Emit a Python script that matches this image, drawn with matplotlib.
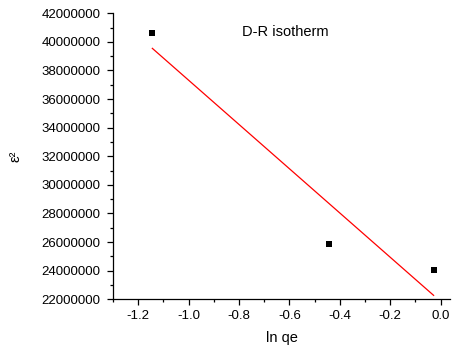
import numpy as np
import matplotlib
matplotlib.use("Agg")
import matplotlib.pyplot as plt
from matplotlib.ticker import MultipleLocator, FormatStrFormatter

plt.rcParams['font.family'] = ['Liberation Sans', 'DejaVu Sans']

# data
ln_qe = [-1.144, -0.443, -0.028]
eps_sq = [40600000, 25870000, 24050000]

# linear fit (the red line)
slope, intercept = np.polyfit(ln_qe, eps_sq, 1)
fit_x = np.array([ln_qe[0], ln_qe[-1]])
fit_y = slope * fit_x + intercept

fig = plt.figure(figsize=(4.59, 3.47), dpi=100)
ax = fig.add_axes([0.2462, 0.1375, 0.9804 - 0.2462, 0.9617 - 0.1375])

ax.plot(ln_qe, eps_sq, 's', color='black', markersize=5, markeredgewidth=0)
ax.plot(fit_x, fit_y, color='red', linewidth=0.9)

ax.set_xlim(-1.3, 0.037)
ax.set_ylim(22000000, 42000000)

ax.xaxis.set_major_locator(MultipleLocator(0.2))
ax.xaxis.set_minor_locator(MultipleLocator(0.1))
ax.xaxis.set_major_formatter(FormatStrFormatter('%.1f'))
ax.yaxis.set_major_locator(MultipleLocator(2000000))
ax.yaxis.set_minor_locator(MultipleLocator(1000000))
ax.yaxis.set_major_formatter(FormatStrFormatter('%d'))

for s in ['top', 'right']:
    ax.spines[s].set_visible(False)
for s in ['left', 'bottom']:
    ax.spines[s].set_linewidth(0.9)

ax.tick_params(which='major', direction='out', length=4, width=0.9, labelsize=9.5, pad=4)
ax.tick_params(axis='y', which='major', pad=5)
ax.tick_params(which='minor', direction='out', length=2.5, width=0.9)

ax.set_xlabel('ln qe', fontsize=10.5, labelpad=6)
ax.set_ylabel('ε²', fontsize=10.5, labelpad=14)

fig.text(242 / 459, 1 - 32 / 347, 'D-R isotherm', fontsize=10.5, va='center', ha='left')

fig.savefig('out.png', dpi=100)
